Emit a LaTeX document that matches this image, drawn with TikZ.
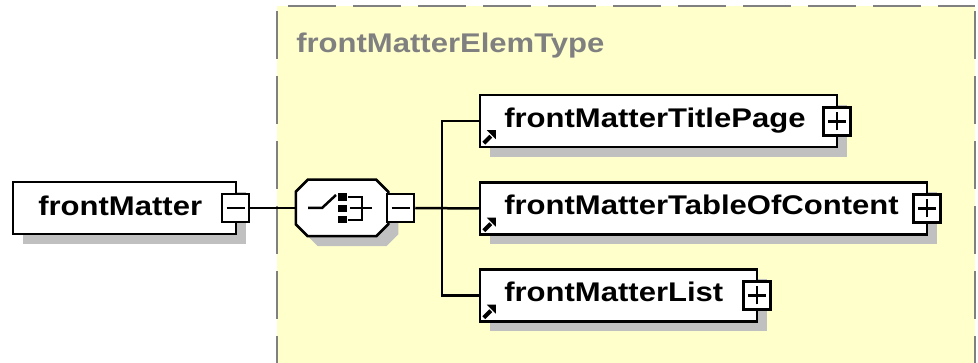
\documentclass[tikz,border=0pt]{standalone}
\usepackage{fontspec}
\setmainfont{Liberation Sans}
\definecolor{bgyellow}{HTML}{FFFFCC}
\definecolor{shadowgray}{HTML}{C0C0C0}
\definecolor{titlegray}{HTML}{808080}
\newcommand\mylab[1]{\scalebox{1.15}[1]{\fontsize{27}{27}\selectfont\bfseries #1}}
\newcommand\octpath[1]{([xshift=12pt]#1.north west) -- ([xshift=-12pt]#1.north east) -- ([yshift=-12pt]#1.north east) -- ([yshift=12pt]#1.south east) -- ([xshift=-12pt]#1.south east) -- ([xshift=12pt]#1.south west) -- ([yshift=12pt]#1.south west) -- ([yshift=-12pt]#1.north west) -- cycle}
\begin{document}
\begin{tikzpicture}[x=1pt,y=-1pt, line width=2.5pt,
  elem/.style={draw=black, fill=white, rectangle, inner sep=0pt, minimum height=52pt},
  shadowbox/.style={fill=shadowgray, rectangle, inner sep=0pt, draw=none, minimum height=52pt},
  pm/.style={draw=black, fill=white, rectangle, inner sep=0pt, minimum width=27pt, minimum height=28pt},
  lbl/.style={anchor=base west, inner sep=0pt, text=black},
  conn/.style={draw=black, line width=2.5pt},
  octo/.style={rectangle, inner sep=0pt, minimum width=90pt, minimum height=54pt},
  frame/.style={draw=titlegray, line width=2pt, dash pattern=on 48pt off 17pt}]
\useasboundingbox (0,0) rectangle (978,363);
\clip (0,0) rectangle (978,363);
% type frame
\fill[bgyellow] (277,6) rectangle (975,380);
\draw[frame, dash phase=54pt] (277,6) -- (975,6);
\draw[frame, dash phase=60pt] (277,6) -- (277,380);
\draw[frame, dash phase=60pt] (975,6) -- (975,380);
\node[anchor=base west, inner sep=0pt, text=titlegray] (title) at (295,53) {\mylab{frontMatterElemType}};
% shadows
\node[shadowbox, minimum width=223pt] (fmS) at (134.5,218) {};
\node[octo] (seqS) at (352,218) {};
\fill[shadowgray] \octpath{seqS};
\node[shadowbox, minimum width=357pt] (b1S) at (668.5,131) {};
\node[shadowbox, minimum width=447pt] (b2S) at (713.5,218.5) {};
\node[shadowbox, minimum width=277pt] (b3S) at (628.5,305.5) {};
% element boxes
\node[elem, minimum width=223pt] (fm) at (124.5,208) {};
\node[lbl] (fmT) at (37,216) {\mylab{frontMatter}};
\node[pm] (fmm) at (235.5,208) {};
\node[octo] (seq) at (342,208) {};
\filldraw[fill=white, draw=black] \octpath{seq};
\node[pm] (seqm) at (400.5,208) {};
\node[elem, minimum width=357pt] (b1) at (658.5,121) {};
\node[lbl] (b1T) at (503,127.5) {\mylab{frontMatterTitlePage}};
\node[pm] (p1) at (837,121.5) {};
\node[elem, minimum width=447pt] (b2) at (703.5,208.5) {};
\node[lbl] (b2T) at (503,215) {\mylab{frontMatterTableOfContent}};
\node[pm] (p2) at (927,208.5) {};
\node[elem, minimum width=277pt] (b3) at (618.5,295.5) {};
\node[lbl] (b3T) at (503,302) {\mylab{frontMatterList}};
\node[pm] (p3) at (757,295.5) {};
% minus / plus signs
\foreach \n in {fmm,seqm,p1,p2,p3}{
  \draw ([xshift=-9pt]\n.center) -- ([xshift=9pt]\n.center);
}
\foreach \n in {p1,p2,p3}{
  \draw ([yshift=-9pt]\n.center) -- ([yshift=9pt]\n.center);
}
% link arrows
\foreach \n in {b1,b2,b3}{
  \draw[line width=4pt] ([xshift=5pt,yshift=5pt]\n.south west) -- ([xshift=12pt,yshift=12pt]\n.south west);
  \fill ([xshift=8pt,yshift=18pt]\n.south west) -- ([xshift=17pt,yshift=18pt]\n.south west) -- ([xshift=17pt,yshift=9pt]\n.south west) -- cycle;
}
% sequence icon
\draw (308,208) -- (322,208) -- (336,195);
\fill (338,193) rectangle (347,201);
\fill (338,205) rectangle (347,212);
\fill (338,216) rectangle (347,223);
\draw (348,197) -- (362,197) -- (362,220) -- (348,220);
\draw (350,208) -- (372,208);
% connectors
\coordinate (spine) at (442,208);
\draw[conn] (fmm.east) -- (seq.west);
\draw[conn] (seqm.east) -- (b2.west);
\draw[conn] (b1.west) -| (spine) |- (b3.west);
\end{tikzpicture}
\end{document}
